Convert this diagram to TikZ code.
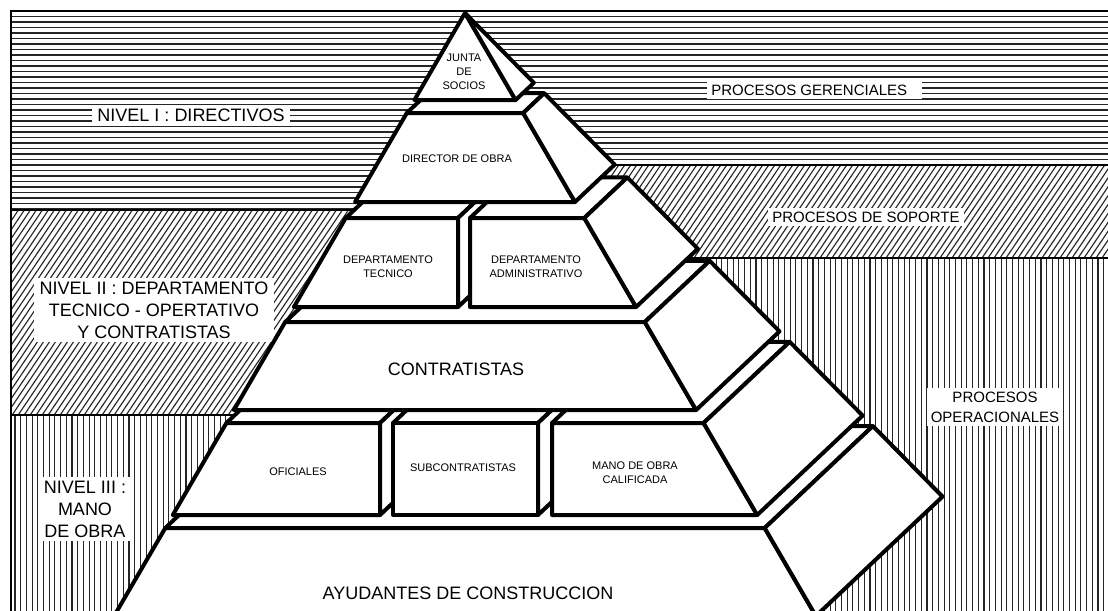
\documentclass[tikz,border=0pt]{standalone}
\usepackage{fontspec}
\setmainfont{Liberation Sans}
\newcommand{\pblk}[6]{%
  \pgfmathsetmacro{\pyA}{13+#1}\pgfmathsetmacro{\pyB}{13+#2}%
  \pgfmathsetmacro{\pdxA}{0.21*#1}\pgfmathsetmacro{\pdyA}{-0.198*#1}%
  \pgfmathsetmacro{\pdxB}{0.21*#2}\pgfmathsetmacro{\pdyB}{-0.198*#2}%
  \filldraw[face] (#3,\pyA) -- (#5,\pyA) -- ++(\pdxA,\pdyA) -- ({#3+\pdxA},{\pyA+\pdyA}) -- cycle;
  \filldraw[face] (#3,\pyA) -- (#5,\pyA) -- (#6,\pyB) -- (#4,\pyB) -- cycle;
  \filldraw[face] (#5,\pyA) -- ++(\pdxA,\pdyA) -- ({#6+\pdxB},{\pyB+\pdyB}) -- (#6,\pyB) -- cycle;
}
\begin{document}
\begin{tikzpicture}[x=0.75pt,y=-0.75pt,
  face/.style={fill=white,draw=black,line width=3pt,line join=round},
  hatch/.style={line width=0.85pt,black!85},
  lbl/.style={fill=white,inner xsep=4pt,inner ysep=3pt,font=\fontsize{13.5}{16.5}\selectfont,align=center},
  big/.style={inner sep=1pt,font=\fontsize{13.5}{16.5}\selectfont,align=center},
  small/.style={inner sep=1pt,font=\fontsize{8.25}{10.5}\selectfont,align=center},
  proc/.style={fill=white,inner xsep=3pt,inner ysep=3pt,font=\fontsize{11.25}{15}\selectfont,align=center}]
\useasboundingbox (0,0) rectangle (1108,611);
\clip (0,0) rectangle (1108,611);
% ---------- background hatching ----------
\begin{scope}
  \clip (11,11) rectangle (1108,165) (11,165) rectangle (465,210);
  \foreach \y in {16.5,22,...,210} \draw[hatch] (11,\y) -- (1108,\y);
\end{scope}
\begin{scope}
  \clip (11,210) rectangle (465,415) (465,165) rectangle (1108,258);
  \foreach \c in {-420,-414,...,1108} \draw[hatch] (\c,611) -- ++(412,-611);
\end{scope}
\begin{scope}
  \clip (11,415) rectangle (465,611) (465,258) rectangle (1108,611);
  \foreach \x in {15,20.7,...,1108} \draw[hatch] (\x,0) -- (\x,611);
\end{scope}
\draw[line width=0.9pt] (465,165) -- (1108,165);
\draw[line width=0.9pt] (465,258) -- (1108,258);
\draw[line width=0.9pt] (11,210) -- (465,210);
\draw[line width=0.9pt] (11,415) -- (465,415);
\draw[line width=1.5pt] (11,611) -- (11,11) -- (1108,11);
% ---------- side labels ----------
\node[lbl] (n1) at (191,115) {NIVEL I : DIRECTIVOS};
\node[lbl] (n2) at (154,310) {NIVEL II : DEPARTAMENTO\\TECNICO - OPERTATIVO\\Y CONTRATISTAS};
\node[lbl] (n3) at (85,509) {NIVEL III :\\MANO\\DE OBRA};
\node[proc,anchor=west] (p1) at (707,90) {PROCESOS GERENCIALES\hspace{8pt}};
\node[proc] (p2) at (866,217) {PROCESOS DE SOPORTE};
\node[proc] (p3) at (995,407) {PROCESOS\\OPERACIONALES};
% ---------- pyramid (bottom tier first) ----------
\pblk{515}{603}{165.3}{114.1}{764.7}{815.9}
\pblk{410}{502}{226.4}{172.8}{380}{380}
\pblk{410}{502}{393}{393}{538}{538}
\pblk{410}{502}{552}{552}{703.6}{757.2}
\pblk{309}{397}{285.2}{233.9}{644.8}{696.1}
\pblk{205}{294}{345.7}{293.9}{458}{458}
\pblk{205}{294}{470}{470}{584.3}{636.1}
\pblk{100}{189}{406.8}{355.0}{523.2}{575.0}
\pblk{0}{87}{465}{414.4}{465}{515.6}
% ---------- pyramid labels ----------
\node[small] (js) at (464,72) {JUNTA\\DE\\SOCIOS};
\node[small] (dir) at (457,159) {DIRECTOR DE OBRA};
\node[small] (dt) at (388,267) {DEPARTAMENTO\\TECNICO};
\node[small] (da) at (536,267) {DEPARTAMENTO\\ADMINISTRATIVO};
\node[big] (con) at (456,369) {CONTRATISTAS};
\node[small] (of) at (298,472) {OFICIALES};
\node[small] (sub) at (463,468) {SUBCONTRATISTAS};
\node[small] (mo) at (635,473) {MANO DE OBRA\\CALIFICADA};
\node[big] (ay) at (468,593) {AYUDANTES DE CONSTRUCCION};
\end{tikzpicture}
\end{document}
